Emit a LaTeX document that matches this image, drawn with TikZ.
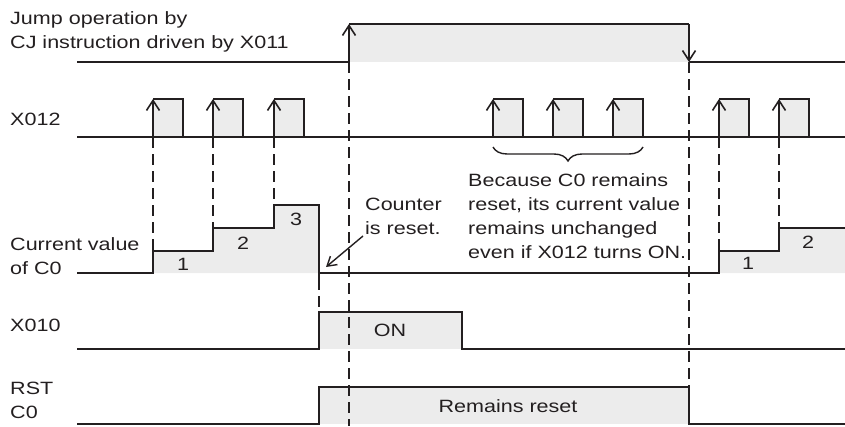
\documentclass[tikz,border=0pt]{standalone}
\usepackage{fontspec}
\setmainfont{Liberation Sans}[FakeStretch=1.21]
\usetikzlibrary{arrows.meta,decorations.pathreplacing}
\definecolor{hilite}{HTML}{ECECEC}
\definecolor{ink}{HTML}{231F20}
\begin{document}
\begin{tikzpicture}[x=1pt,y=-1pt,
    sig/.style={draw=ink,line width=2pt},
    guide/.style={draw=ink,line width=1.6pt,dash pattern=on 11pt off 6pt},
    edge/.style={sig,-{Straight Barb[length=10pt,width=13pt,line width=1.6pt]}},
    lbl/.style={font=\fontsize{17.8}{24}\selectfont,inner sep=0pt,align=left,text=ink}]
  \useasboundingbox (0,0) rectangle (845,426);
  % shaded high levels
  \fill[hilite] (349,24) rectangle (689,62);
  \foreach \x in {153,213,274,493,553,613,719,779}
    \fill[hilite] (\x,99) rectangle ++(30,38);
  \fill[hilite] (153,273) |- (213,251) |- (274,228) |- (319,205) -- (319,273) -- cycle;
  \fill[hilite] (719,273) |- (779,251) |- (845,228) -- (845,273) -- cycle;
  \fill[hilite] (319,312) rectangle (462,349);
  \fill[hilite] (319,387) rectangle (689,424);
  % guide lines
  \foreach \x/\y in {153/251,213/228,274/205,719/251,779/228}
    \draw[guide] (\x,137) -- (\x,\y);
  \draw[guide] (349,62) -- (349,426);
  \draw[guide] (689,62) -- (689,387);
  \draw[guide] (319,279) -- (319,312);
  % CJ jump
  \node[lbl,anchor=west] (jump) at (10,32) {Jump operation by\\CJ instruction driven by X011};
  \draw[sig] (77,62) -- (349,62);
  \draw[edge] (349,62) -- (349,24);
  \draw[sig] (349,24) -- (689,24);
  \draw[edge] (689,24) -- (689,62);
  \draw[sig] (689,62) -- (845,62);
  % X012
  \node[lbl,anchor=west] (xin) at (10,119) {X012};
  \draw[sig] (77,137) -- (845,137);
  \foreach \x in {153,213,274,493,553,613,719,779}{
    \draw[edge] (\x,137) -- (\x,99);
    \draw[sig] (\x,99) -| (\x+30,137);
  }
  \draw[decorate,decoration={brace,mirror,amplitude=14pt},draw=ink,line width=1.4pt]
    (493,147) -- (643,147);
  \node[lbl,anchor=west] (note) at (468,216)
    {Because C0 remains\\reset, its current value\\remains unchanged\\even if X012 turns ON.};
  % counter C0
  \node[lbl,anchor=west] (cval) at (10,256) {Current value\\of C0};
  \draw[sig] (77,273) -| (153,251) -| (213,228) -| (274,205) -| (319,279);
  \draw[sig] (319,273) -| (719,251) -| (779,228) -- (845,228);
  \node[lbl] (v1) at (183,264) {1};
  \node[lbl] (v2) at (243,243) {2};
  \node[lbl] (v3) at (296,219) {3};
  \node[lbl] (w1) at (748,263) {1};
  \node[lbl] (w2) at (808,242) {2};
  \node[lbl,anchor=west] (rst) at (365,216) {Counter\\is reset.};
  \coordinate (zero) at (326,267);
  \draw[ink,line width=1.4pt,-{Straight Barb[length=9pt,width=11pt]}] (363,236) -- (zero);
  % X010
  \node[lbl,anchor=west] (xrst) at (10,325) {X010};
  \draw[sig] (77,349) -| (319,312) -| (462,349) -- (845,349);
  \node[lbl] (on) at (390,330) {ON};
  % RST C0
  \node[lbl,anchor=west] (rstc) at (10,400) {RST\\C0};
  \draw[sig] (77,424) -| (319,387) -| (689,424) -- (845,424);
  \node[lbl] (keep) at (508,406) {Remains reset};
\end{tikzpicture}
\end{document}
